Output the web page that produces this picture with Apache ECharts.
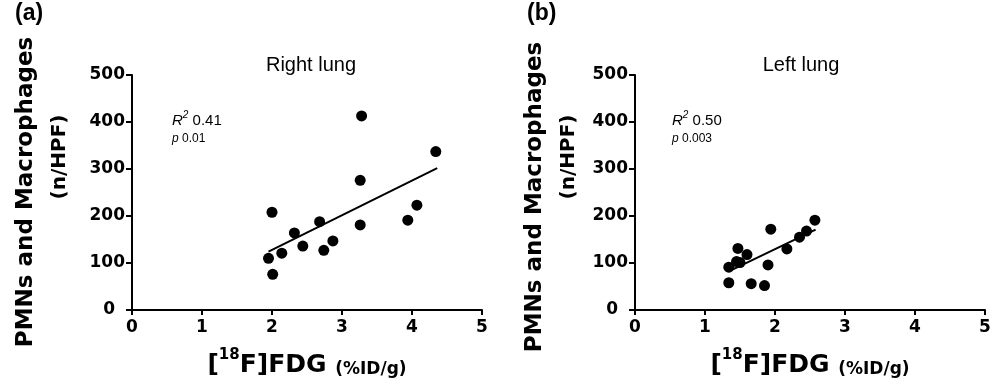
<!DOCTYPE html>
<html>
<head>
<meta charset="utf-8">
<script src="https://cdn.jsdelivr.net/npm/echarts@6/dist/echarts.min.js"></script>
<style>html,body{margin:0;padding:0;background:#fff}#c{width:1001px;height:390px}</style>
</head>
<body>
<div id="c"></div>
<script>
// Right lung (panel a): [FDG %ID/g, PMNs+Macrophages n/HPF]
const rightLung = [
  [1.95,110],[2.01,76],[2.00,208],[2.14,121],[2.32,164],[2.44,136],[2.68,188],
  [2.74,127],[2.87,147],[3.26,276],[3.28,413],[3.26,181],[3.94,191],[4.07,223],[4.34,337]
];
const rightFit = [[1.95,124],[4.36,302]];
// Left lung (panel b)
const leftLung = [
  [1.34,91],[1.34,58],[1.47,131],[1.45,103],[1.50,101],[1.60,118],[1.66,56],
  [1.85,52],[1.90,96],[1.94,172],[2.17,130],[2.35,155],[2.45,168],[2.57,191]
];
const leftFit = [[1.34,82],[2.58,171]];
const panelTitles = ['Right lung','Left lung'];
const panelTags = ['(a)','(b)'];
const stats = [['0.41','0.01'],['0.50','0.003']];
const xMin = 0, xMax = 5, xStep = 1;
const yMin = 0, yMax = 500, yStep = 100;

const BOLD = 'DejaVu Sans';
const ARIAL = 'Liberation Sans';

function xAxis(idx){
  return {
    gridIndex: idx, type:'value', min:xMin, max:xMax, interval:xStep,
    axisLine:{show:true, onZero:false, lineStyle:{color:'#000', width:2}},
    axisTick:{show:true, inside:false, length:5, lineStyle:{color:'#000', width:2}},
    splitLine:{show:false},
    axisLabel:{color:'#000', fontFamily:BOLD, fontWeight:'bold', fontSize:17, margin:9},
    name:'{b|[}{sup|18}{b|F]FDG }{small|(%ID/g)}',
    nameLocation:'middle', nameGap:38,
    nameTextStyle:{
      color:'#000',
      rich:{
        b:{fontFamily:BOLD, fontWeight:'bold', fontSize:25, color:'#000', verticalAlign:'bottom', lineHeight:30},
        sup:{fontFamily:BOLD, fontWeight:'bold', fontSize:15, color:'#000', verticalAlign:'top', lineHeight:30},
        small:{fontFamily:BOLD, fontWeight:'bold', fontSize:17, color:'#000', verticalAlign:'bottom', lineHeight:26}
      }
    }
  };
}
function yAxis(idx){
  return {
    gridIndex: idx, type:'value', min:yMin, max:yMax, interval:yStep,
    axisLine:{show:true, onZero:false, lineStyle:{color:'#000', width:2}},
    axisTick:{show:true, inside:false, length:6, lineStyle:{color:'#000', width:2}},
    splitLine:{show:false},
    axisLabel:{
      color:'#000', fontFamily:BOLD, fontWeight:'bold', fontSize:17, margin:7,
      formatter: v => v === 0 ? '{z|0}' : String(v),
      rich:{ z:{fontFamily:BOLD, fontWeight:'bold', fontSize:17, color:'#000', padding:[0,10,0,0]} }
    }
  };
}

const graphics = [];
const tagX = [15, 527];
const lab1 = [[26,192],[535,197]];
const lab2 = [[60,157],[569,157]];
const titleX = [311, 801];
const statX = [172, 672];
for (let i=0;i<2;i++){
  graphics.push({type:'text', left:tagX[i], top:2, style:{text:panelTags[i], font:'bold 23px "Liberation Sans"', fill:'#000'}});
  graphics.push({type:'text', x:lab1[i][0], y:lab1[i][1], rotation:Math.PI/2,
    style:{text:'PMNs and Macrophages', font:'bold 23px "DejaVu Sans"', fill:'#000', align:'center', verticalAlign:'middle'}});
  graphics.push({type:'text', x:lab2[i][0], y:lab2[i][1], rotation:Math.PI/2,
    style:{text:'(n/HPF)', font:'bold 20px "DejaVu Sans"', fill:'#000', align:'center', verticalAlign:'middle'}});
  graphics.push({type:'text', x:titleX[i], y:65,
    style:{text:panelTitles[i], font:'20px "Liberation Sans"', fill:'#000', align:'center', verticalAlign:'middle'}});
  graphics.push({type:'text', x:statX[i], y:119,
    style:{text:'{i|R}{s|2}{n| '+stats[i][0]+'}', align:'left', verticalAlign:'middle',
      rich:{
        i:{fontFamily:ARIAL, fontStyle:'italic', fontSize:15, fill:'#000', verticalAlign:'bottom', lineHeight:18},
        s:{fontFamily:ARIAL, fontStyle:'italic', fontSize:10, fill:'#000', verticalAlign:'top', lineHeight:18},
        n:{fontFamily:ARIAL, fontSize:15, fill:'#000', verticalAlign:'bottom', lineHeight:18}
      }}});
  graphics.push({type:'text', x:statX[i], y:139,
    style:{text:'{i|p}{n| '+stats[i][1]+'}', align:'left', verticalAlign:'middle',
      rich:{
        i:{fontFamily:ARIAL, fontStyle:'italic', fontSize:12, fill:'#000'},
        n:{fontFamily:ARIAL, fontSize:12, fill:'#000'}
      }}});
}

const chart = echarts.init(document.getElementById('c'), null, {renderer:'canvas'});
chart.setOption({
  animation:false,
  backgroundColor:'#fff',
  grid:[
    {left:132, right:519, top:75, bottom:80},
    {left:635, right:16, top:75, bottom:80}
  ],
  xAxis:[xAxis(0), xAxis(1)],
  yAxis:[yAxis(0), yAxis(1)],
  series:[
    {type:'scatter', xAxisIndex:0, yAxisIndex:0, data:rightLung, symbolSize:11, itemStyle:{color:'#000', opacity:1}},
    {type:'line', xAxisIndex:0, yAxisIndex:0, data:rightFit, showSymbol:false, lineStyle:{color:'#000', width:2}},
    {type:'scatter', xAxisIndex:1, yAxisIndex:1, data:leftLung, symbolSize:11, itemStyle:{color:'#000', opacity:1}},
    {type:'line', xAxisIndex:1, yAxisIndex:1, data:leftFit, showSymbol:false, lineStyle:{color:'#000', width:2}}
  ],
  graphic: graphics
});
</script>
</body>
</html>
